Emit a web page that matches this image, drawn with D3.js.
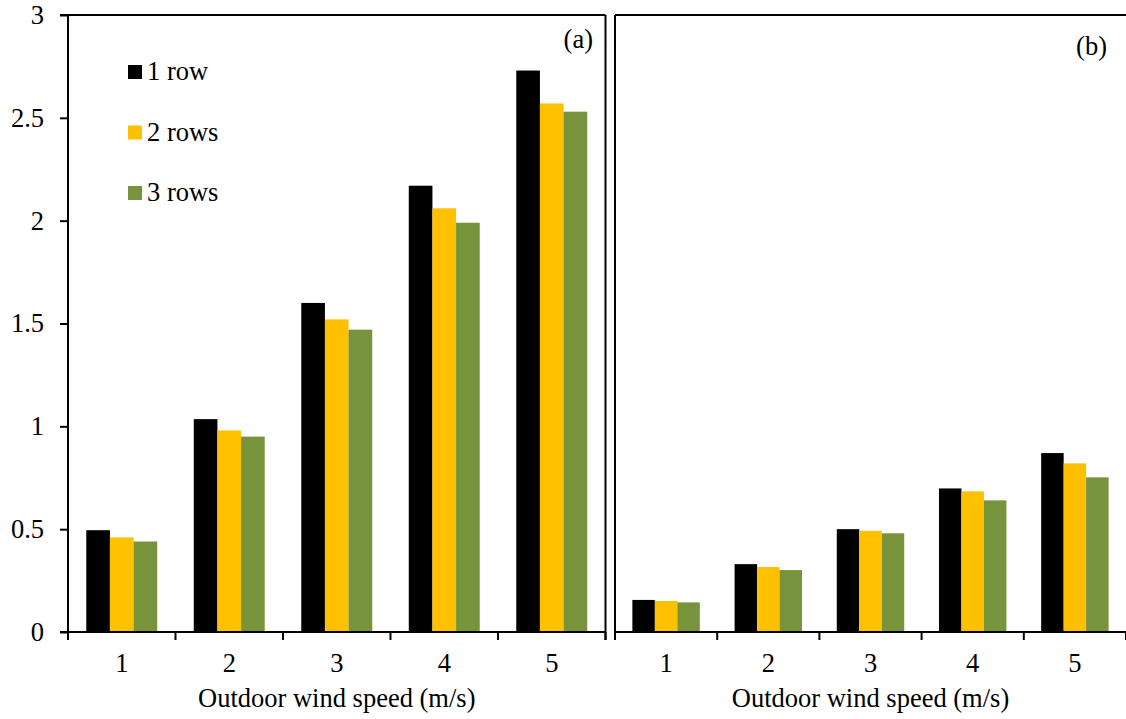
<!DOCTYPE html>
<html>
<head>
<meta charset="utf-8">
<script src="https://cdn.jsdelivr.net/npm/d3@7"></script>
<style>
    body { margin: 0; background: #fff; }
    svg { display: block; font-family: 'Liberation Serif', 'Times New Roman', serif; }
</style>
</head>
<body>
<svg width="1126" height="719"></svg>
<script>
// Data
const speeds = ['1', '2', '3', '4', '5'];
const series = ['1 row', '2 rows', '3 rows'];
const colors = ['#000000', '#ffc000', '#77933c'];
const yTicks = [0, 0.5, 1, 1.5, 2, 2.5, 3];

const panelA = [
    [0.495, 1.035, 1.6, 2.17, 2.73],
    [0.46, 0.98, 1.52, 2.06, 2.57],
    [0.44, 0.95, 1.47, 1.99, 2.53],
];
const panelB = [
    [0.156, 0.33, 0.5, 0.698, 0.87],
    [0.151, 0.316, 0.492, 0.684, 0.82],
    [0.144, 0.301, 0.48, 0.64, 0.752],
];

const svg = d3.select('svg');
const plotTop = 15;
const plotBottom = 632;
const fontSize = 26.5;
const serif = 'Liberation Serif';

const y = d3.scaleLinear().domain([0, 3]).range([plotBottom, plotTop]);

function drawPanel(values, left, right, opts) {
    const g = svg.append('g');

    const x0 = d3.scaleBand().domain(speeds).range([left, right]).padding(0);
    const bw = x0.bandwidth();
    const x1 = d3.scaleBand().domain(series).range([0, bw * 0.66]).padding(0);

    // Bars
    series.forEach((s, i) => {
        g.append('g')
            .selectAll('rect')
            .data(values[i])
            .join('rect')
            .attr('x', (d, j) => x0(speeds[j]) + bw * 0.17 + x1(s))
            .attr('y', (d) => y(d))
            .attr('width', x1.bandwidth())
            .attr('height', (d) => y(0) - y(d))
            .attr('fill', colors[i]);
    });

    // Frame
    g.append('line').attr('x1', left).attr('x2', left).attr('y1', plotTop).attr('y2', plotBottom + 8)
        .attr('stroke', '#000').attr('stroke-width', 2);
    g.append('line').attr('x1', opts.frameStart).attr('x2', right).attr('y1', plotTop).attr('y2', plotTop)
        .attr('stroke', '#000').attr('stroke-width', 2);
    if (opts.rightBorder) {
        g.append('line').attr('x1', right).attr('x2', right).attr('y1', plotTop).attr('y2', plotBottom + 8)
            .attr('stroke', '#000').attr('stroke-width', 2);
    }
    g.append('line').attr('x1', opts.frameStart).attr('x2', right).attr('y1', plotBottom).attr('y2', plotBottom)
        .attr('stroke', '#000').attr('stroke-width', 2);

    // Category boundary ticks
    const bounds = speeds.map((c) => x0(c)).concat([right]);
    g.append('g')
        .selectAll('line')
        .data(bounds)
        .join('line')
        .attr('x1', (d) => d).attr('x2', (d) => d)
        .attr('y1', plotBottom).attr('y2', plotBottom + 8)
        .attr('stroke', '#000').attr('stroke-width', 2);

    // X labels
    const xAxis = g.append('g')
        .attr('transform', `translate(0,${plotBottom})`)
        .call(d3.axisBottom(x0).tickSize(0).tickPadding(21));
    xAxis.select('.domain').remove();
    xAxis.selectAll('text')
        .attr('font-family', serif)
        .attr('font-size', fontSize)
        .attr('fill', '#000');

    g.append('text')
        .attr('x', (left + right) / 2)
        .attr('y', 707)
        .attr('text-anchor', 'middle')
        .attr('font-family', serif)
        .attr('font-size', fontSize)
        .text('Outdoor wind speed (m/s)');

    g.append('text')
        .attr('x', opts.labelX)
        .attr('y', opts.labelY)
        .attr('text-anchor', 'end')
        .attr('font-family', serif)
        .attr('font-size', fontSize)
        .text(opts.label);

    return g;
}

const gA = drawPanel(panelA, 68, 605.5, {
    frameStart: 60, rightBorder: true, label: '(a)', labelX: 593, labelY: 48,
});
drawPanel(panelB, 615, 1126, {
    frameStart: 615, rightBorder: false, label: '(b)', labelX: 1107, labelY: 55,
});

// Y axis on panel a
const yAxis = gA.append('g')
    .attr('transform', 'translate(68,0)')
    .call(d3.axisLeft(y).tickValues(yTicks).tickSize(8).tickPadding(16).tickFormat(d3.format('')));
yAxis.select('.domain').remove();
yAxis.selectAll('line').attr('stroke-width', 2);
yAxis.selectAll('text')
    .attr('font-family', serif)
    .attr('font-size', fontSize)
    .attr('fill', '#000');

// Legend
const legend = svg.append('g').attr('transform', 'translate(128,72)');
series.forEach((s, i) => {
    const row = legend.append('g').attr('transform', `translate(0,${i * 60.5})`);
    row.append('rect').attr('x', 0).attr('y', -7).attr('width', 14).attr('height', 14).attr('fill', colors[i]);
    row.append('text').attr('x', 19).attr('y', 8)
        .attr('font-family', serif)
        .attr('font-size', fontSize)
        .text(s);
});
</script>
</body>
</html>
